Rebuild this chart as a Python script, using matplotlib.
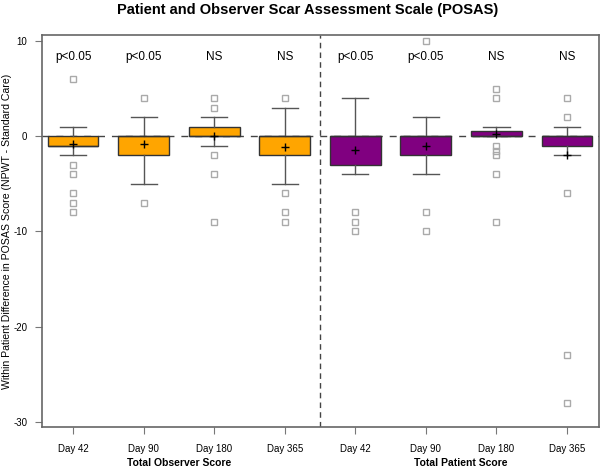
import matplotlib
matplotlib.use('Agg')
import matplotlib.pyplot as plt

plt.rcParams['font.family'] = ['Liberation Sans', 'DejaVu Sans']

days = ['Day 42', 'Day 90', 'Day 180', 'Day 365']
groups = ['Total Observer Score', 'Total Patient Score']
pvals = ['p<0.05', 'p<0.05', 'NS', 'NS', 'p<0.05', 'p<0.05', 'NS', 'NS']

# box stats per box: observer days then patient days
q1 = [-1, -2, 0, -2, -3, -2, 0, -1]
q3 = [0, 0, 1, 0, 0, 0, 0.5, 0]
med = [-1, 0, 0, 0, 0, 0, 0, 0]
whislo = [-2, -5, -1, -5, -4, -4, 0, -2]
whishi = [1, 2, 2, 3, 4, 2, 1, 1]
means = [-0.8, -0.8, 0.0, -1.1, -1.45, -1.05, 0.2, -2.0]
fliers = [
    [6, -3, -4, -6, -7, -8],
    [4, -7],
    [4, 3, -2, -4, -9],
    [4, -6, -8, -9],
    [-8, -9, -10],
    [10, -8, -10],
    [5, 4, -1, -1.5, -2, -4, -9],
    [4, 2, -6, -23, -28],
]
colors = ['orange'] * 4 + ['purple'] * 4

fig = plt.figure(figsize=(6, 4.68), dpi=100)
ax = fig.add_axes([0.07, 0.0876, 0.928, 0.8374])

positions = list(range(1, 9))
ax.axhline(0, color='#444444', lw=1.0, ls=(0, (5, 5)), zorder=0)
ax.axvline(4.5, color='#444444', lw=1.0, ls=(0, (4, 3)), zorder=0)

stats = []
for i in range(8):
    stats.append(dict(med=med[i], q1=q1[i], q3=q3[i], whislo=whislo[i],
                      whishi=whishi[i], fliers=fliers[i], mean=means[i]))

bp = ax.bxp(stats, positions=positions, widths=0.72, patch_artist=True,
            showmeans=True, showfliers=True,
            boxprops=dict(edgecolor='#333333', linewidth=1.0),
            medianprops=dict(color='#333333', linewidth=1.0),
            whiskerprops=dict(color='#555555', linewidth=1.0),
            capprops=dict(color='#555555', linewidth=1.0),
            meanprops=dict(marker='+', markeredgecolor='black', markersize=6,
                           markeredgewidth=1.0),
            flierprops=dict(marker='s', markerfacecolor='none',
                            markeredgecolor='#aaaaaa', markersize=5,
                            markeredgewidth=1.0),
            capwidths=0.37)
for patch, c in zip(bp['boxes'], colors):
    patch.set_facecolor(c)

for x, t in zip(positions, pvals):
    ax.text(x, 8.3, t, ha='center', va='center', fontsize=8.5)

ax.set_xlim(0.56, 8.45)
ax.set_ylim(-30.56, 10.63)
ax.set_yticks([10, 0, -10, -20, -30])
ax.set_yticklabels(['10', '0', '-10', '-20', '-30'])
ax.set_xticks(positions)
ax.set_xticklabels(days * 2)
ax.tick_params(axis='both', labelsize=7, color='#777777', length=5, width=0.8)
ax.tick_params(axis='x', pad=7)
ax.tick_params(axis='y', pad=5.5)
for s in ax.spines.values():
    s.set_color('#666666')
    s.set_linewidth(1.2)

ax.set_ylabel('Within Patient Difference in POSAS Score (NPWT - Standard Care)',
              fontsize=7.6, va='center')
ax.yaxis.set_label_coords(-0.062, 0.5)

for j, g in enumerate(groups):
    ax.text(2.5 + 4 * j, -34.3, g, ha='center', va='center', fontsize=7.5,
            fontweight='bold')

fig.text(0.512, 0.979, 'Patient and Observer Scar Assessment Scale (POSAS)',
         ha='center', va='center', fontsize=10.5, fontweight='bold')

fig.savefig('out.png', dpi=100)
